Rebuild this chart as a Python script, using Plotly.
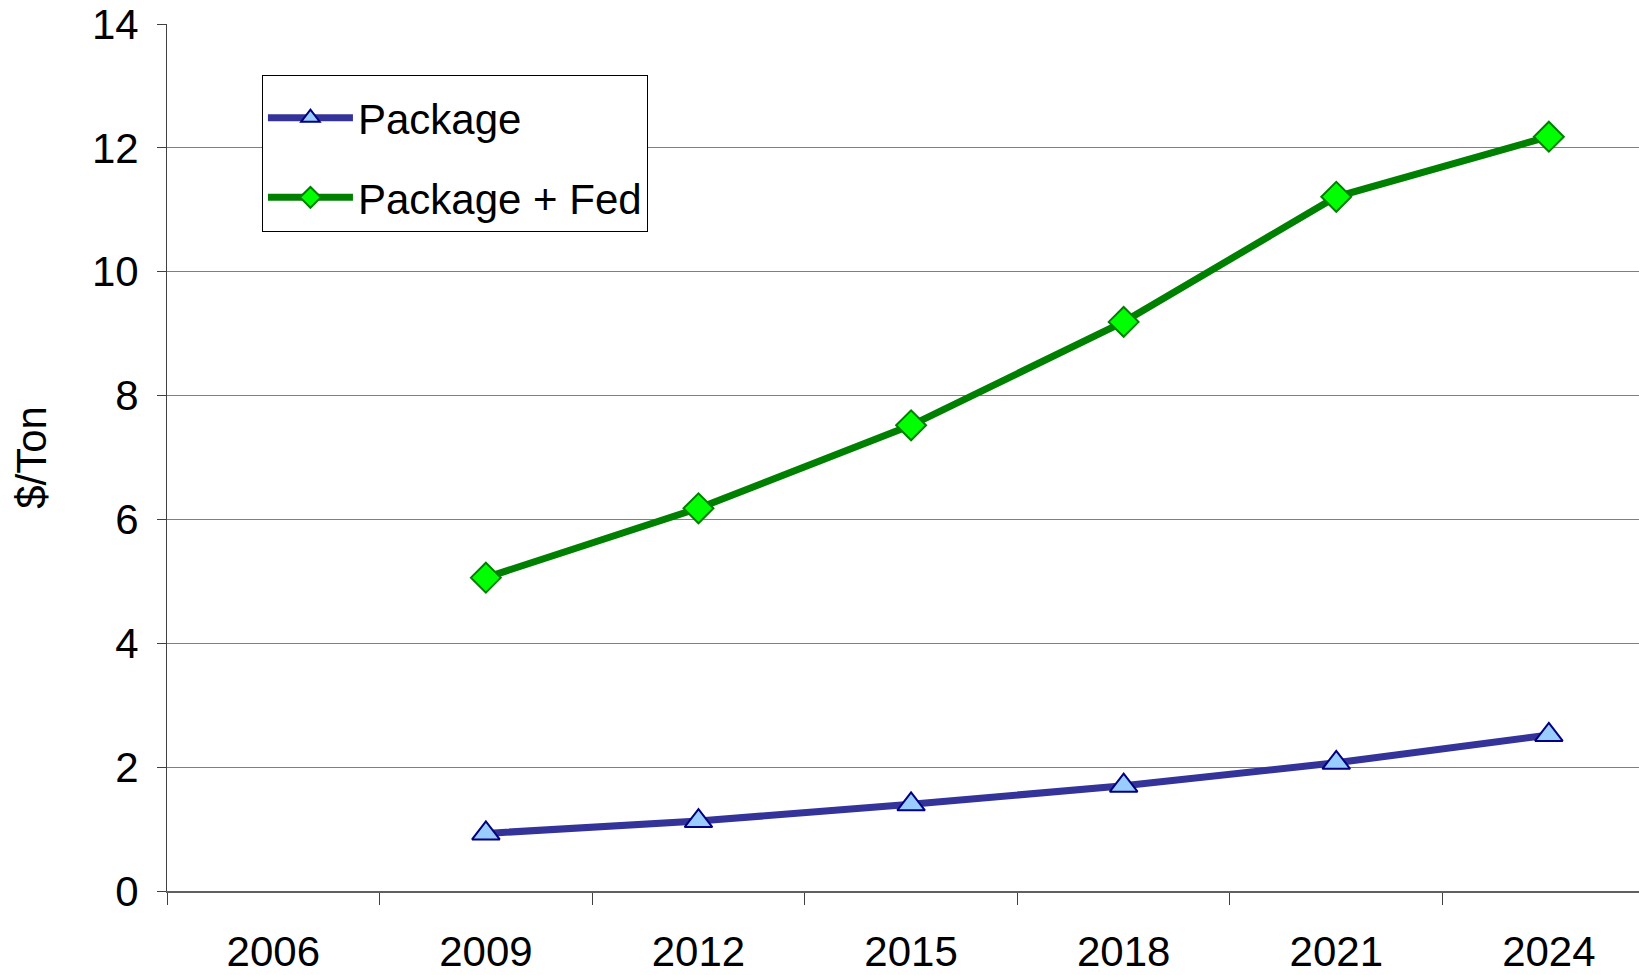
import plotly.graph_objects as go

# categories (2006 has no data point, but the axis shows it)
years = ["2006", "2009", "2012", "2015", "2018", "2021", "2024"]
package = [None, 0.93, 1.13, 1.40, 1.70, 2.07, 2.52]
package_fed = [None, 5.06, 6.18, 7.52, 9.19, 11.21, 12.18]

FONT = "Liberation Sans, Arial, sans-serif"

fig = go.Figure()

fig.add_trace(go.Scatter(
    x=years, y=package,
    mode="lines+markers",
    name="Package",
    legendgroup="a",
    line=dict(color="#333399", width=7),
    marker=dict(symbol="triangle-up", size=24, color="#99CCFF",
                line=dict(color="#000080", width=2)),
))

fig.add_trace(go.Scatter(
    x=years, y=package_fed,
    mode="lines+markers",
    name="Package + Fed",
    legendgroup="b",
    line=dict(color="#008000", width=7),
    marker=dict(symbol="diamond", size=23, color="#00FF00",
                line=dict(color="#008000", width=2)),
))

fig.update_layout(
    width=1639, height=975,
    paper_bgcolor="white",
    plot_bgcolor="white",
    margin=dict(l=167, r=0, t=24, b=80),
    font=dict(family=FONT, size=42, color="black"),
    showlegend=True,
    legend=dict(
        x=0.0645, y=0.941, xanchor="left", yanchor="top",
        bgcolor="white", bordercolor="black", borderwidth=1,
        font=dict(size=42),
        title=dict(text=" ", font=dict(size=6)),
        itemwidth=85,
        tracegroupgap=22,
        traceorder="grouped",
    ),
    xaxis=dict(
        type="category",
        categoryorder="array", categoryarray=years,
        range=[-0.5, 6.424],
        tickson="boundaries",
        ticks="outside", ticklen=12, tickcolor="#404040", tickwidth=1,
        ticklabelstandoff=23,
        ticklabeloverflow="allow",
        showgrid=False,
        showline=True, linecolor="#606060", linewidth=2,
        tickfont=dict(size=42),
    ),
    yaxis=dict(
        range=[0, 14],
        dtick=2,
        ticks="outside", ticklen=9, tickcolor="#404040", tickwidth=1,
        ticklabelstandoff=10,
        ticklabeloverflow="allow",
        showgrid=True, gridcolor="#808080", gridwidth=1,
        showline=True, linecolor="#404040", linewidth=1,
        zeroline=False,
        tickfont=dict(size=42),
        title=dict(text="$/Ton", font=dict(size=42), standoff=32),
    ),
)

# drop the default 8px page margin so the figure fills the window exactly
fig.write_html(
    "out.html",
    config={"displayModeBar": False},
    post_script="document.body.style.margin='0';document.body.style.overflow='hidden';",
)
